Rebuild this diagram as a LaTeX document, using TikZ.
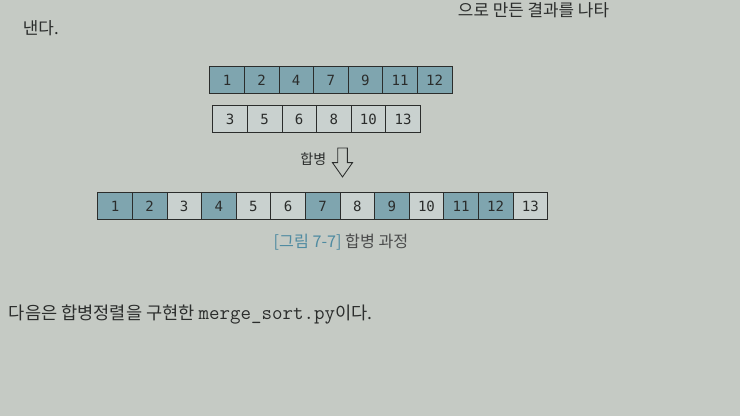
\documentclass[tikz,border=0pt]{standalone}
\usepackage{fontspec}
\usetikzlibrary{shapes,shapes.arrows,positioning}
\newfontfamily\kr{Noto Sans CJK KR}
\newfontfamily\cellfont{DejaVu Sans Mono}
\definecolor{paper}{HTML}{C5CAC4}
\definecolor{tealcell}{HTML}{7FA5AF}
\definecolor{greycell}{HTML}{C9D1CF}
\definecolor{capblue}{HTML}{4F8BA1}
\definecolor{ink}{HTML}{2B2D2C}

\begin{document}
\begin{tikzpicture}[x=0.025cm,y=-0.025cm,
    cell/.style={draw=ink, line width=0.6pt, minimum width=0.865cm, minimum height=0.675cm,
      inner sep=0pt, font=\cellfont\fontsize{10}{11}\selectfont, text=ink},
    dark/.style={cell, fill=tealcell},
    light/.style={cell, fill=greycell},
    page/.style={font=\kr\fontsize{12}{14}\selectfont, text=ink}]
    \fill[paper] (0,0) rectangle (740,416);
    \useasboundingbox (0,0) rectangle (740,416);
    % page text above the figure
    \node[page, anchor=east] (lineone) at (614,10) {으로 만든 결과를 나타};
    \node[page, anchor=west] (linetwo) at (18,28) {낸다.};
    % Top Row (first sorted half)
    \matrix (upper) [anchor=west, inner sep=0pt, column sep=-0.6pt] at (209,80) {
      \node[dark] (a1) {1}; & \node[dark] (a2) {2}; & \node[dark] (a3) {4}; & \node[dark] (a4) {7}; & \node[dark] (a5) {9}; & \node[dark] (a6) {11}; & \node[dark] (a7) {12};\\
    };
    % Middle Row (second sorted half)
    \matrix (lower) [anchor=west, inner sep=0pt, column sep=-0.6pt] at (212,119) {
      \node[light] (b1) {3}; & \node[light] (b2) {5}; & \node[light] (b3) {6}; & \node[light] (b4) {8}; & \node[light] (b5) {10}; & \node[light] (b6) {13};\\
    };
    % merge arrow
    \node[single arrow, draw=ink, line width=0.6pt, shape border rotate=270,
      minimum height=0.725cm, single arrow head extend=0.13cm, single arrow tip angle=70,
      inner sep=0.11cm] (mergearrow) at (342.5,159) {};
    \node[left=0.15cm of mergearrow, font=\kr\fontsize{10}{11}\selectfont, text=ink] (mergelbl) {합병};
    % Bottom Row (merged result)
    \matrix (merged) [anchor=west, inner sep=0pt, column sep=-0.6pt] at (97,206) {
      \node[dark] (m1) {1}; & \node[dark] (m2) {2}; & \node[light] (m3) {3}; & \node[dark] (m4) {4}; & \node[light] (m5) {5}; & \node[light] (m6) {6}; & \node[dark] (m7) {7}; & \node[light] (m8) {8}; & \node[dark] (m9) {9}; & \node[light] (m10) {10}; & \node[dark] (m11) {11}; & \node[dark] (m12) {12}; & \node[light] (m13) {13};\\
    };
    \node[font=\kr\fontsize{11.5}{13}\selectfont, text=ink!85] (caption) at (341,242)
      {{\color{capblue}[그림 7-7]}\ 합병 과정};
    % page text below the figure
    \node[page, anchor=west, font=\kr\fontsize{12.5}{14}\selectfont] (linethree) at (4,314)
      {다음은 합병정렬을 구현한 {\ttfamily\fontsize{14.5}{16}\selectfont merge\_sort.py}이다.};
\end{tikzpicture}
\end{document}
